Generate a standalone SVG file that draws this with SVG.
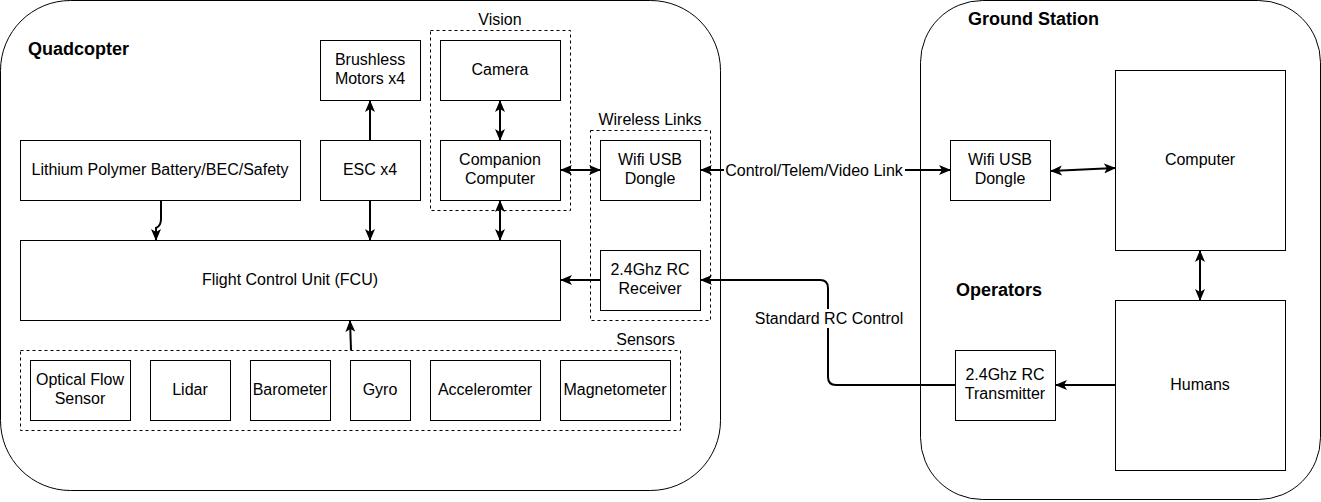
<svg xmlns="http://www.w3.org/2000/svg" width="1321" height="502" viewBox="0 0 1321 502">
<style>
.box{fill:#fff;stroke:#000;stroke-width:1}
.grp{fill:none;stroke:#000;stroke-width:1;stroke-dasharray:3,3}
.cont{fill:#fff;stroke:#000;stroke-width:1}
text{font-family:"Liberation Sans",Arial,sans-serif;font-size:16px;fill:#000}
.c{text-anchor:middle}
.title{font-size:18px;font-weight:bold}
.conn{fill:none;stroke:#000;stroke-width:2}
.lbl{fill:#fff;stroke:none}
</style>
<defs>
<marker id="ah" markerUnits="userSpaceOnUse" viewBox="0 0 12 10" refX="11" refY="5" markerWidth="12" markerHeight="10" orient="auto-start-reverse">
<path d="M0,0 L12,5 L0,10 L3,5 Z" fill="#000"/>
</marker>
</defs>
<rect width="1321" height="502" fill="#fff"/>
<g id="quadcopter">
<rect class="cont" x="0.5" y="0.5" width="720" height="490" rx="70" ry="70"/>
<text class="title" x="28" y="55">Quadcopter</text>
</g>
<g id="ground-station">
<rect class="cont" x="920.5" y="0.5" width="400" height="499" rx="62" ry="62"/>
<text class="title" x="968" y="25">Ground Station</text>
<text class="title" x="956" y="296">Operators</text>
</g>
<g id="vision-group">
<rect class="grp" x="430.5" y="30.5" width="140" height="180"/>
<text class="c" x="500" y="25">Vision</text>
</g>
<g id="wireless-group">
<rect class="grp" x="590.5" y="130.5" width="120" height="190"/>
<text class="c" x="650" y="125">Wireless Links</text>
</g>
<g id="sensors-group">
<rect class="grp" x="20.5" y="350.5" width="660" height="80"/>
<text x="675" y="345" text-anchor="end">Sensors</text>
</g>
<g id="motors"><rect class="box" x="320.5" y="40.5" width="100" height="60"/><text class="c" x="370" y="65">Brushless</text><text class="c" x="370" y="84">Motors x4</text></g>
<g id="battery"><rect class="box" x="20.5" y="140.5" width="280" height="60"/><text class="c" x="160" y="175">Lithium Polymer Battery/BEC/Safety</text></g>
<g id="esc"><rect class="box" x="320.5" y="140.5" width="100" height="60"/><text class="c" x="370" y="175">ESC x4</text></g>
<g id="camera"><rect class="box" x="440.5" y="40.5" width="120" height="60"/><text class="c" x="500" y="75">Camera</text></g>
<g id="companion"><rect class="box" x="440.5" y="140.5" width="120" height="60"/><text class="c" x="500" y="165">Companion</text><text class="c" x="500" y="184">Computer</text></g>
<g id="wifi-air"><rect class="box" x="600.5" y="140.5" width="100" height="60"/><text class="c" x="650" y="165">Wifi USB</text><text class="c" x="650" y="184">Dongle</text></g>
<g id="rc-receiver"><rect class="box" x="600.5" y="250.5" width="100" height="60"/><text class="c" x="650" y="275">2.4Ghz RC</text><text class="c" x="650" y="294">Receiver</text></g>
<g id="fcu"><rect class="box" x="20.5" y="240.5" width="540" height="80"/><text class="c" x="290" y="285">Flight Control Unit (FCU)</text></g>
<g id="optical-flow"><rect class="box" x="30.5" y="360.5" width="100" height="60"/><text class="c" x="80" y="385">Optical Flow</text><text class="c" x="80" y="404">Sensor</text></g>
<g id="lidar"><rect class="box" x="150.5" y="360.5" width="80" height="60"/><text class="c" x="190" y="395">Lidar</text></g>
<g id="barometer"><rect class="box" x="250.5" y="360.5" width="80" height="60"/><text class="c" x="290" y="395">Barometer</text></g>
<g id="gyro"><rect class="box" x="350.5" y="360.5" width="60" height="60"/><text class="c" x="380" y="395">Gyro</text></g>
<g id="accelerometer"><rect class="box" x="430.5" y="360.5" width="110" height="60"/><text class="c" x="485" y="395">Acceleromter</text></g>
<g id="magnetometer"><rect class="box" x="560.5" y="360.5" width="110" height="60"/><text class="c" x="615" y="395">Magnetometer</text></g>
<g id="wifi-ground"><rect class="box" x="950.5" y="140.5" width="100" height="60"/><text class="c" x="1000" y="165">Wifi USB</text><text class="c" x="1000" y="184">Dongle</text></g>
<g id="computer"><rect class="box" x="1115.5" y="70.5" width="170" height="180"/><text class="c" x="1200" y="165">Computer</text></g>
<g id="humans"><rect class="box" x="1115.5" y="300.5" width="170" height="170"/><text class="c" x="1200" y="390">Humans</text></g>
<g id="rc-transmitter"><rect class="box" x="955.5" y="350.5" width="100" height="70"/><text class="c" x="1005" y="380">2.4Ghz RC</text><text class="c" x="1005" y="399">Transmitter</text></g>
<g id="connectors">
<path class="conn" d="M161,201 L161,219 Q161,226 156,228 L156,240" marker-end="url(#ah)"/>
<path class="conn" d="M370,140 L370,101" marker-end="url(#ah)"/>
<path class="conn" d="M370,201 L370,240" marker-end="url(#ah)"/>
<path class="conn" d="M500,101 L500,140" marker-start="url(#ah)" marker-end="url(#ah)"/>
<path class="conn" d="M500,201 L500,240" marker-start="url(#ah)" marker-end="url(#ah)"/>
<path class="conn" d="M561,170 L600,170" marker-start="url(#ah)" marker-end="url(#ah)"/>
<path class="conn" d="M600,280 L561,280" marker-end="url(#ah)"/>
<path class="conn" d="M351,350 L350,321" marker-end="url(#ah)"/>
<path class="conn" d="M701,170 L950,170" marker-start="url(#ah)" marker-end="url(#ah)"/>
<rect class="lbl" x="724" y="161" width="181" height="18"/>
<text class="c" x="814" y="176">Control/Telem/Video Link</text>
<path class="conn" d="M1051,171 L1115,168" marker-start="url(#ah)" marker-end="url(#ah)"/>
<path class="conn" d="M1200,251 L1200,300" marker-start="url(#ah)" marker-end="url(#ah)"/>
<path class="conn" d="M1115,385 L1056,385" marker-end="url(#ah)"/>
<path class="conn" d="M955,385 L836,385 Q828,385 828,377 L828,288 Q828,280 820,280 L701,280" marker-end="url(#ah)"/>
<rect class="lbl" x="754" y="309" width="150" height="19"/>
<text class="c" x="829" y="324">Standard RC Control</text>
</g>
</svg>
